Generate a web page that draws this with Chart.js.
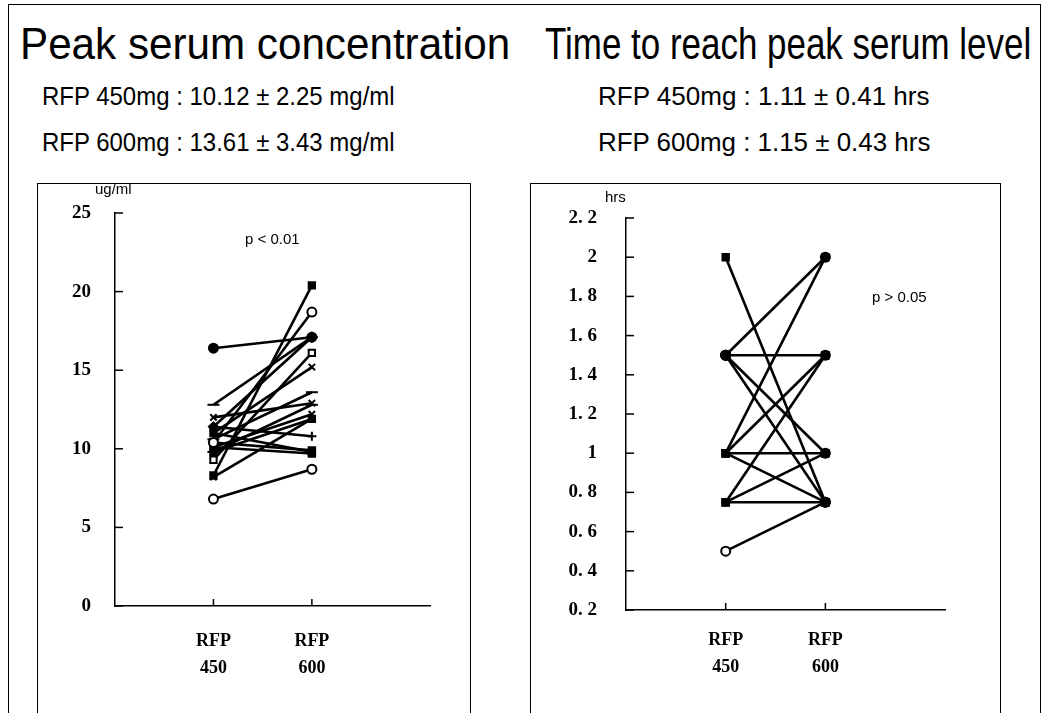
<!DOCTYPE html>
<html lang="en">
<head>
<meta charset="UTF-8">
<title>Peak serum concentration / Time to reach peak serum level</title>
<script src="https://cdn.jsdelivr.net/npm/chart.js"></script>
<style>
  body { margin: 0; background: #fff; font-family: "Liberation Sans", Arial, sans-serif; }
  #page { position: relative; width: 1048px; height: 713px; overflow: hidden; }
  .frame { position: absolute; border: 1.5px solid #000; box-sizing: border-box; }
  .txt { position: absolute; white-space: nowrap; color: #000; transform-origin: 0 50%; }
  .title { font-size: 44px; top: 19px; }
  .sub { font-size: 25px; }
  canvas { position: absolute; }
</style>
</head>
<body>
<div id="page">
  <div class="frame" style="left:8px;top:4px;width:1033px;height:730px;"></div>
  <div class="txt title" data-w="490" style="left:20px;">Peak serum concentration</div>
  <div class="txt title" data-w="486" style="left:545px;">Time to reach peak serum level</div>

  <div class="txt sub" data-w="353" style="left:42px;top:82px;">RFP 450mg : 10.12 ± 2.25 mg/ml</div>
  <div class="txt sub" data-w="353" style="left:42px;top:128px;">RFP 600mg : 13.61 ± 3.43 mg/ml</div>
  <div class="txt sub" data-w="332" style="left:598px;top:82px;">RFP 450mg : 1.11 ± 0.41 hrs</div>
  <div class="txt sub" data-w="332" style="left:598px;top:128px;">RFP 600mg : 1.15 ± 0.43 hrs</div>

  <canvas id="concChart" style="left:38px;top:184px;" width="432" height="529"></canvas>
  <canvas id="timeChart" style="left:531px;top:184px;" width="469" height="529"></canvas>
  <div class="frame" style="left:37px;top:183px;width:434px;height:560px;"></div>
  <div class="frame" style="left:530px;top:183px;width:471px;height:560px;"></div>

  <div class="txt" style="left:95px;top:180px;font-size:15px;">ug/ml</div>
  <div class="txt" style="left:245px;top:230px;font-size:15px;">p &lt; 0.01</div>
  <div class="txt" style="left:605px;top:188px;font-size:15px;">hrs</div>
  <div class="txt" style="left:872px;top:288px;font-size:15px;">p &gt; 0.05</div>
</div>

<script>
// categories on the x axis (position 1 and 2)
const doses = [['RFP', '450'], ['RFP', '600']];

// peak serum concentration (ug/ml), one pair per subject
const conc450 = [16.4, 12.8, 8.3, 10.4, 11.4, 9.3, 11.0, 10.6, 12.0, 10.1, 9.8, 6.8, 11.4, 10.4, 10.1, 8.2, 11.0, 9.8];
const conc600 = [17.1, 17.1, 20.4, 18.7, 17.1, 16.1, 15.2, 13.6, 12.9, 12.2, 11.9, 8.7, 10.8, 9.9, 9.7, 11.9, 9.8, 12.8];

// time to peak (hrs), one pair per subject
const time450 = [2.0, 1.5, 1.5, 1.5, 1.5, 1.0, 1.0, 1.0, 1.0, 0.75, 0.75, 0.75, 0.5];
const time600 = [0.75, 2.0, 1.5, 1.0, 0.75, 2.0, 1.5, 1.0, 0.75, 1.5, 1.0, 0.75, 0.75];

// y axis tick values
const concTicks = [0, 5, 10, 15, 20, 25];
const timeTicks = [0.2, 0.4, 0.6, 0.8, 1, 1.2, 1.4, 1.6, 1.8, 2, 2.2];

// marker look per subject
const concMarks = [
  ['circle', true], ['line', false], ['rect', true], ['circle', false], ['rectRot', true], ['rect', false],
  ['crossRot', false], ['line', false], ['crossRot', false], ['crossRot', false], ['rect', true], ['circle', false],
  ['cross', false], ['rect', true], ['rect', true], ['crossRot', false], ['rect', true], ['line', false]
];
const timeMarks = [
  ['rect', true], ['circle', true], ['circle', true], ['circle', true], ['circle', true], ['rect', true],
  ['rect', true], ['rect', true], ['rect', true], ['rect', true], ['rect', true], ['rect', true], ['circle', false]
];

// squeeze the scanned-looking headings to their widths
document.querySelectorAll('[data-w]').forEach(el => {
  el.style.transform = 'scaleX(' + (+el.dataset.w / el.offsetWidth) + ')';
});

// small tick marks drawn inward from the axes
const inwardTicks = {
  id: 'inwardTicks',
  afterDraw(chart) {
    const { ctx, scales: { x, y } } = chart;
    ctx.save();
    ctx.strokeStyle = '#000';
    ctx.lineWidth = 1.5;
    y.ticks.forEach(t => {
      const py = y.getPixelForValue(t.value);
      ctx.beginPath();
      ctx.moveTo(x.left, py);
      ctx.lineTo(x.left + 8, py);
      ctx.stroke();
    });
    x.ticks.forEach(t => {
      const px = x.getPixelForValue(t.value);
      ctx.beginPath();
      ctx.moveTo(px, y.bottom);
      ctx.lineTo(px, y.bottom - 7);
      ctx.stroke();
    });
    ctx.restore();
  }
};

function pairSets(a, b, marks) {
  return a.map((v, i) => ({
    data: [{ x: 1, y: v }, { x: 2, y: b[i] }],
    borderColor: '#000',
    borderWidth: 2.6,
    pointStyle: marks[i][0],
    pointRadius: marks[i][0] === 'line' ? 6 : 4.5,
    pointBorderWidth: 2,
    pointBorderColor: '#000',
    pointBackgroundColor: marks[i][1] ? '#000' : '#fff'
  }));
}

function makeChart(id, a, b, marks, yTicks, opts) {
  const serif = { family: '"Liberation Serif", "DejaVu Serif", serif', weight: 'bold' };
  return new Chart(document.getElementById(id).getContext('2d'), {
    type: 'line',
    data: { datasets: pairSets(a, b, marks) },
    plugins: [inwardTicks],
    options: {
      responsive: false,
      animation: false,
      layout: { padding: { top: opts.top, right: opts.right, left: 0, bottom: 0 } },
      plugins: { legend: { display: false }, tooltip: { enabled: false } },
      scales: {
        x: {
          type: 'linear', min: 0, max: 3.2,
          grid: { display: false },
          border: { color: '#000', width: 1.5 },
          afterBuildTicks: s => { s.ticks = [{ value: 1 }, { value: 2 }]; },
          afterFit: s => { s.height = opts.xHeight; },
          ticks: {
            color: '#000', padding: opts.xPad,
            font: { ...serif, size: 18, lineHeight: 1.5 },
            callback: v => doses[v - 1]
          }
        },
        y: {
          type: 'linear', min: yTicks[0], max: yTicks[yTicks.length - 1],
          grid: { display: false },
          border: { color: '#000', width: 1.5 },
          afterBuildTicks: s => { s.ticks = yTicks.map(v => ({ value: v })); },
          afterFit: s => { s.width = opts.yWidth; },
          ticks: {
            color: '#000', padding: opts.pad,
            font: { ...serif, size: 19 },
            callback: opts.fmt
          }
        }
      }
    }
  });
}

makeChart('concChart', conc450, conc600, concMarks, concTicks, {
  top: 29, right: 40, xHeight: 107, yWidth: 77, pad: 16, xPad: 14,
  fmt: v => String(v)
});

makeChart('timeChart', time450, time600, timeMarks, timeTicks, {
  top: 34, right: 55, xHeight: 103, yWidth: 95, pad: 21, xPad: 9,
  fmt: v => Math.abs(v - Math.round(v)) < 1e-6 ? String(Math.round(v)) : v.toFixed(1).replace('.', '. ')
});
</script>
</body>
</html>
